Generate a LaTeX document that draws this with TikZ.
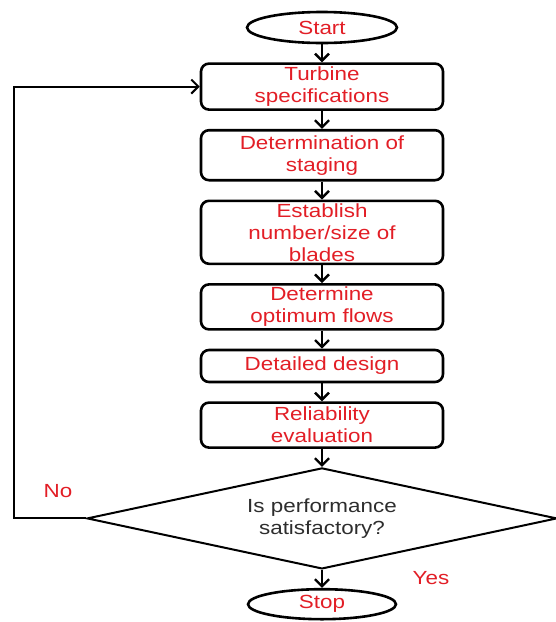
\documentclass[tikz,border=0pt]{standalone}
\usepackage{fontspec}
\setmainfont[FakeStretch=1.18]{Liberation Sans}
\usepackage{xcolor}
\usepackage{tikz}
\usetikzlibrary{arrows.meta,shapes,calc,positioning}

\definecolor{stepred}{RGB}{226,30,38}
\definecolor{askgray}{RGB}{45,45,45}

\begin{document}
\begin{tikzpicture} [node distance=18pt,
	>={Straight Barb[length=7pt,width=14pt]},
	stepfont/.style={font=\fontsize{19}{22}\selectfont},
	stepbox/.style={draw, stepfont, line width=2.6pt, rounded corners=8pt, minimum width=242pt, minimum height=45pt, inner ysep=0pt, align=center, text=stepred},
	endbox/.style={draw, stepfont, ellipse, line width=2.6pt, minimum width=150pt, minimum height=31pt, inner sep=0pt, text=stepred},
	askbox/.style={draw, stepfont, diamond, aspect=4.65, line width=2pt, minimum width=470pt, minimum height=101pt, inner sep=0pt, align=center, text=askgray},
	flow/.style={->, line width=2.4pt}]
	
	\useasboundingbox (0,0) rectangle (555pt,-622pt);
	
	\node (start) [endbox] at (322pt,-27.5pt) {Start};
	
	\node (T_spec) [stepbox, below=of start, minimum height=46pt] {Turbine\\specifications};
	
	\node (T_stage) [stepbox, below=of T_spec, minimum height=50pt] {Determination of\\staging};
	
	\node (T_blade) [stepbox, below=of T_stage, minimum height=63pt] {Establish\\number/size of\\blades};
	
	\node (T_flow) [stepbox, below=of T_blade] {Determine\\optimum flows};
	
	\node (T_design) [stepbox, below=of T_flow, minimum height=32pt] {Detailed design};
	
	\node (T_rely) [stepbox, below=of T_design] {Reliability\\evaluation};
	
	\node (perf) [askbox, below=of T_rely] {Is performance\\satisfactory?};
	
	\node (stop) [endbox, below=of perf, minimum width=148pt, minimum height=30pt] {Stop};
	
	\coordinate (back) at (14pt,0);
	
	\node (no) [stepfont, text=stepred] at ($(perf.west -| back) + (44pt,27pt)$) {No};
	
	\node (yes) [stepfont, text=stepred] at ($(perf.south) + (109pt,-8pt)$) {Yes};
	
	
	\draw [flow] (start) -- (T_spec);
	
	\draw [flow] (T_spec) -- (T_stage);
	
	\draw [flow] (T_stage) -- (T_blade);
	
	\draw [flow] (T_blade) -- (T_flow);
	
	\draw [flow] (T_flow) -- (T_design);
	
	\draw [flow] (T_design) -- (T_rely);
	
	\draw [flow] (T_rely) -- (perf);
	
	\draw [flow] (perf) -- (stop);
	
	\draw [->, line width=2pt] (perf.west) -- (perf.west -| back) |- (T_spec.west);
	
\end{tikzpicture}
\end{document}
